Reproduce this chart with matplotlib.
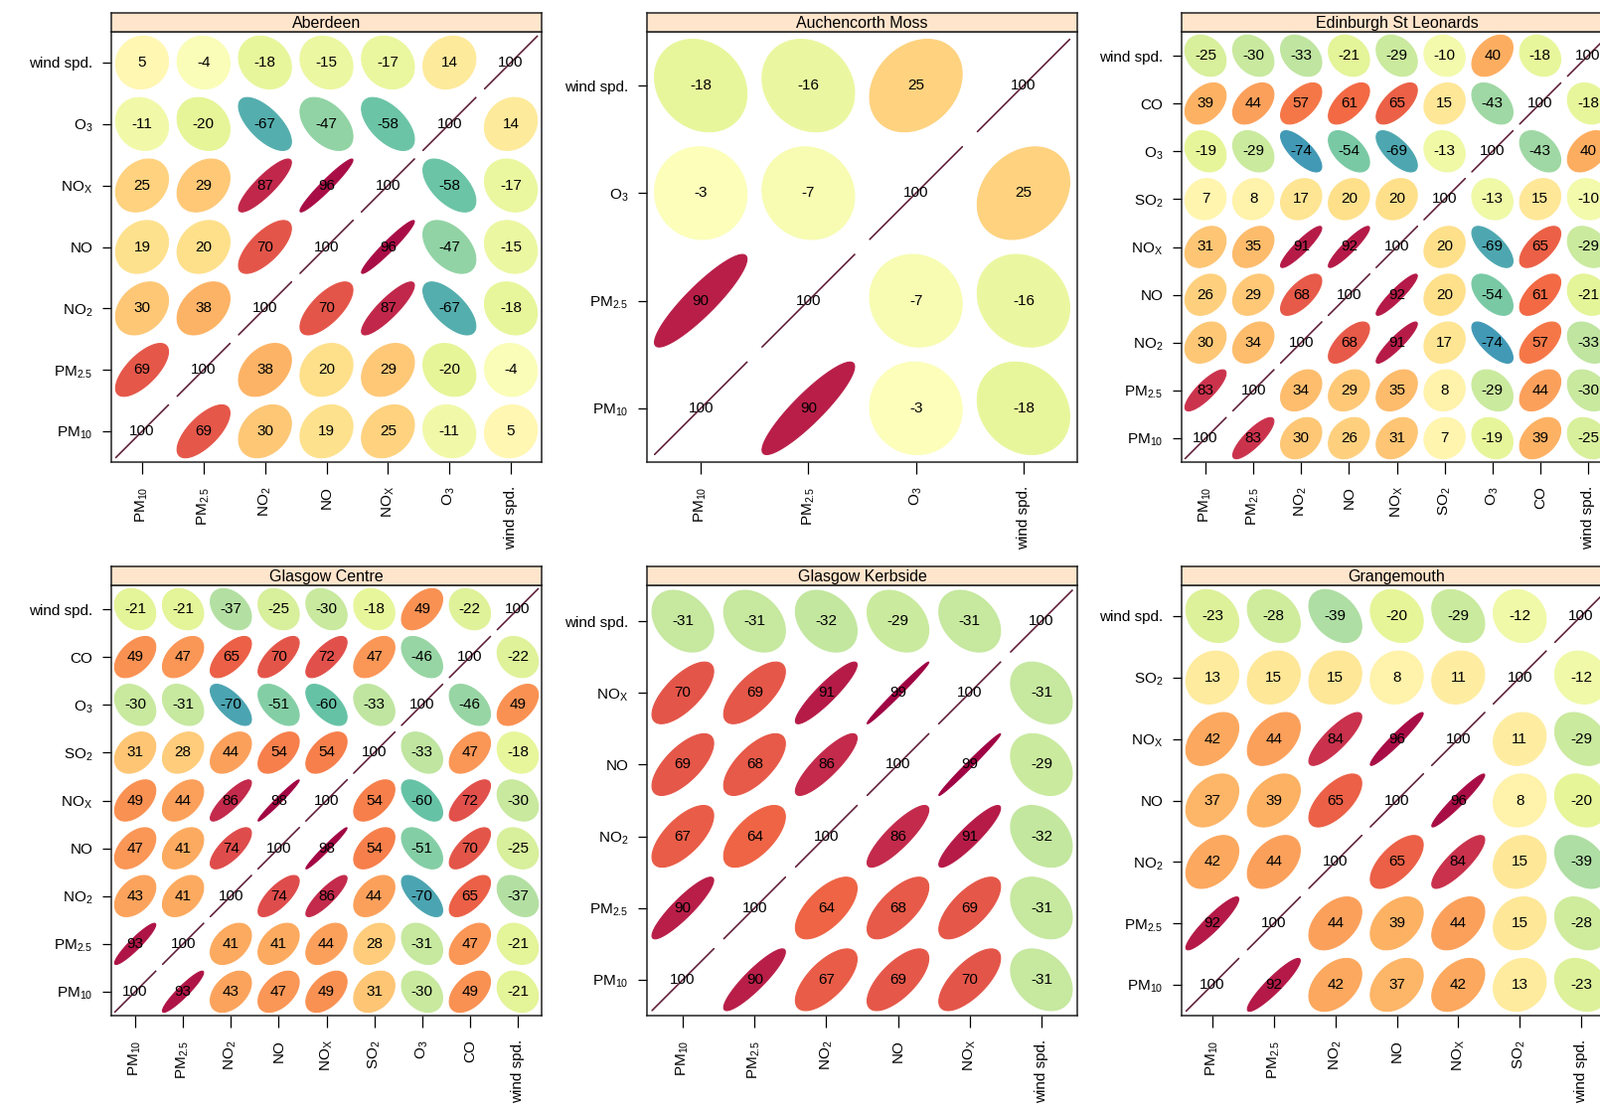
import numpy as np
import matplotlib
matplotlib.use("Agg")
import matplotlib.pyplot as plt

plt.rcParams['font.family'] = ['Liberation Sans', 'DejaVu Sans']
plt.rcParams['mathtext.fontset'] = 'custom'
plt.rcParams['mathtext.rm'] = 'Liberation Sans'

# correlation (x100) between pollutants, rows/cols in the order of each var list
aberdeen_vars = ['PM10', 'PM2.5', 'NO2', 'NO', 'NOx', 'O3', 'ws']
aberdeen_cor = [
    [100, 69, 30, 19, 25, -11, 5],
    [69, 100, 38, 20, 29, -20, -4],
    [30, 38, 100, 70, 87, -67, -18],
    [19, 20, 70, 100, 96, -47, -15],
    [25, 29, 87, 96, 100, -58, -17],
    [-11, -20, -67, -47, -58, 100, 14],
    [5, -4, -18, -15, -17, 14, 100],
]

auchencorth_vars = ['PM10', 'PM2.5', 'O3', 'ws']
auchencorth_cor = [
    [100, 90, -3, -18],
    [90, 100, -7, -16],
    [-3, -7, 100, 25],
    [-18, -16, 25, 100],
]

edinburgh_vars = ['PM10', 'PM2.5', 'NO2', 'NO', 'NOx', 'SO2', 'O3', 'CO', 'ws']
edinburgh_cor = [
    [100, 83, 30, 26, 31, 7, -19, 39, -25],
    [83, 100, 34, 29, 35, 8, -29, 44, -30],
    [30, 34, 100, 68, 91, 17, -74, 57, -33],
    [26, 29, 68, 100, 92, 20, -54, 61, -21],
    [31, 35, 91, 92, 100, 20, -69, 65, -29],
    [7, 8, 17, 20, 20, 100, -13, 15, -10],
    [-19, -29, -74, -54, -69, -13, 100, -43, 40],
    [39, 44, 57, 61, 65, 15, -43, 100, -18],
    [-25, -30, -33, -21, -29, -10, 40, -18, 100],
]

glasgow_c_vars = ['PM10', 'PM2.5', 'NO2', 'NO', 'NOx', 'SO2', 'O3', 'CO', 'ws']
glasgow_c_cor = [
    [100, 93, 43, 47, 49, 31, -30, 49, -21],
    [93, 100, 41, 41, 44, 28, -31, 47, -21],
    [43, 41, 100, 74, 86, 44, -70, 65, -37],
    [47, 41, 74, 100, 98, 54, -51, 70, -25],
    [49, 44, 86, 98, 100, 54, -60, 72, -30],
    [31, 28, 44, 54, 54, 100, -33, 47, -18],
    [-30, -31, -70, -51, -60, -33, 100, -46, 49],
    [49, 47, 65, 70, 72, 47, -46, 100, -22],
    [-21, -21, -37, -25, -30, -18, 49, -22, 100],
]

glasgow_k_vars = ['PM10', 'PM2.5', 'NO2', 'NO', 'NOx', 'ws']
glasgow_k_cor = [
    [100, 90, 67, 69, 70, -31],
    [90, 100, 64, 68, 69, -31],
    [67, 64, 100, 86, 91, -32],
    [69, 68, 86, 100, 99, -29],
    [70, 69, 91, 99, 100, -31],
    [-31, -31, -32, -29, -31, 100],
]

grangemouth_vars = ['PM10', 'PM2.5', 'NO2', 'NO', 'NOx', 'SO2', 'ws']
grangemouth_cor = [
    [100, 92, 42, 37, 42, 13, -23],
    [92, 100, 44, 39, 44, 15, -28],
    [42, 44, 100, 65, 84, 15, -39],
    [37, 39, 65, 100, 96, 8, -20],
    [42, 44, 84, 96, 100, 11, -29],
    [13, 15, 15, 8, 11, 100, -12],
    [-23, -28, -39, -20, -29, -12, 100],
]

labels = {
    'PM10': r'$\mathregular{PM_{10}}$',
    'PM2.5': r'$\mathregular{PM_{2.5}}$',
    'NO2': r'$\mathregular{NO_2}$',
    'NO': 'NO',
    'NOx': r'$\mathregular{NO_X}$',
    'SO2': r'$\mathregular{SO_2}$',
    'O3': r'$\mathregular{O_3}$',
    'CO': 'CO',
    'ws': 'wind spd.',
}

W, H = 1610, 1119
size = 433
strip_h = 19
fs = 11

cmap = plt.cm.Spectral_r

fig = plt.figure(figsize=(W / 100, H / 100), dpi=100)


def panel(left, top, title, names, cor):
    n = len(names)
    ax = fig.add_axes([left / W, 1 - (top + size) / H, size / W, size / H])
    st = fig.add_axes([left / W, 1 - top / H, size / W, strip_h / H])
    st.set_facecolor('#FFE5CC')
    st.set_xticks([])
    st.set_yticks([])
    st.text(0.5, 0.45, title, ha='center', va='center', fontsize=fs + 0.5, transform=st.transAxes)

    a = np.linspace(0, 2 * np.pi, 100)
    s = 0.43
    for i in range(n):
        for j in range(n):
            r = cor[i][j] / 100
            d = np.arccos(np.clip(r, -1, 1))
            x = j + 1 + s * np.cos(a + d / 2)
            y = i + 1 + s * np.cos(a - d / 2)
            c = cmap((r + 1) / 2)
            if r >= 1:
                ax.plot(x, y, color='#5C1A36', lw=0.8)
            else:
                ax.fill(x, y, color=c, ec=c, lw=0.8)
            ax.text(j + 1, i + 1, str(cor[i][j]), ha='center', va='center', fontsize=fs)

    ax.set_xlim(0.5, n + 0.5)
    ax.set_ylim(0.5, n + 0.5)
    ax.set_xticks(range(1, n + 1))
    ax.set_yticks(range(1, n + 1))
    ax.set_xticklabels([labels[v] for v in names], rotation=90, fontsize=fs)
    ax.set_yticklabels([labels[v] for v in names], fontsize=fs)
    ax.tick_params(axis='x', direction='out', length=8.5, width=0.9, pad=9, top=False)
    ax.tick_params(axis='y', direction='out', length=6.5, width=0.9, pad=7, right=False)
    for sp in ax.spines.values():
        sp.set_linewidth(1.1)
        sp.set_color('#222222')
    for sp in st.spines.values():
        sp.set_linewidth(1.1)
        sp.set_color('#222222')


panel(112, 32, 'Aberdeen', aberdeen_vars, aberdeen_cor)
panel(651, 32, 'Auchencorth Moss', auchencorth_vars, auchencorth_cor)
panel(1189, 32, 'Edinburgh St Leonards', edinburgh_vars, edinburgh_cor)
panel(112, 589, 'Glasgow Centre', glasgow_c_vars, glasgow_c_cor)
panel(651, 589, 'Glasgow Kerbside', glasgow_k_vars, glasgow_k_cor)
panel(1189, 589, 'Grangemouth', grangemouth_vars, grangemouth_cor)

plt.savefig('out.png', dpi=100)
